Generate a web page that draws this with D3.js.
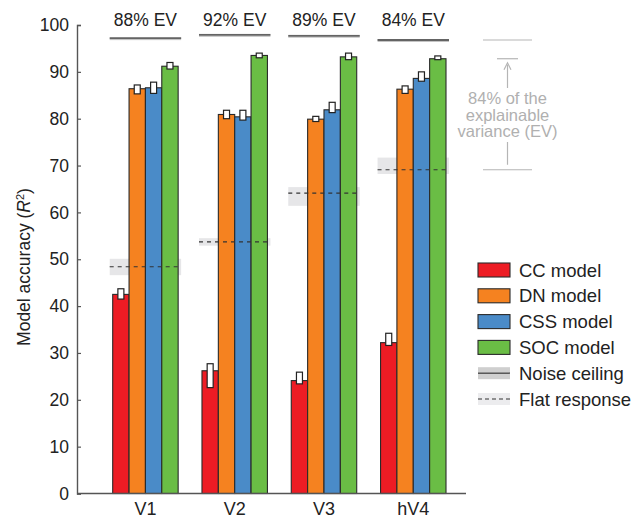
<!doctype html>
<html lang="en">
<head>
<meta charset="UTF-8" />
<title>Model accuracy</title>
<script src="https://d3js.org/d3.v7.min.js"></script>
<style>
  body { margin: 0; background: #fff; font-family: 'Liberation Sans', Arial, sans-serif; }
  .tick text { fill: #222; }
</style>
</head>
<body>
<div id="chart-container"></div>
<script>
// data
var areas = ['V1', 'V2', 'V3', 'hV4'];
var models = ['CC model', 'DN model', 'CSS model', 'SOC model'];
var modelColors = ['#ed1c24', '#f58220', '#4a8bc8', '#6abd45'];
var evLabels = ['88% EV', '92% EV', '89% EV', '84% EV'];

// mean accuracy per area (rows) and model (columns)
var accuracy = [
  [42.5, 86.4, 86.6, 91.2],
  [26.2, 80.9, 80.4, 93.5],
  [24.1, 79.9, 81.9, 93.2],
  [32.2, 86.3, 88.6, 92.8]
];
var errLow = [
  [41.5, 85.3, 85.4, 90.6],
  [22.6, 80.0, 79.7, 93.0],
  [23.4, 79.4, 81.3, 92.6],
  [31.6, 85.4, 88.0, 92.6]
];
var errHigh = [
  [43.7, 87.2, 87.8, 92.0],
  [27.7, 81.8, 81.8, 94.0],
  [25.9, 80.5, 83.5, 94.0],
  [34.2, 87.0, 90.0, 93.4]
];
var noiseCeiling = [97.2, 97.9, 97.7, 96.8];
var flatResponse = [48.4, 53.7, 64.1, 69.1];
var flatLow = [46.6, 52.9, 61.4, 68.2];
var flatHigh = [50.1, 54.5, 65.4, 71.7];
var yTicks = [0, 10, 20, 30, 40, 50, 60, 70, 80, 90, 100];

var W = 643, H = 518;
var svg = d3.select('#chart-container').append('svg')
  .attr('width', W).attr('height', H);

var yScale = d3.scaleLinear().domain([0, 100]).range([493.5, 25]);
var xScale = d3.scaleBand().domain(areas).range([112.7, 446]).paddingInner(0.267).paddingOuter(0);
var mScale = d3.scaleBand().domain(models).range([0, xScale.bandwidth()]);
var color = d3.scaleOrdinal().domain(models).range(modelColors);

var axisX = 77;

// flat response bands (behind bars)
var groups = svg.selectAll('.area').data(areas).enter().append('g')
  .attr('class', 'area')
  .attr('transform', function (d) { return 'translate(' + xScale(d) + ',0)'; });

groups.append('rect')
  .attr('x', -3)
  .attr('width', xScale.bandwidth() + 6)
  .attr('y', function (d, i) { return yScale(flatHigh[i]); })
  .attr('height', function (d, i) { return yScale(flatLow[i]) - yScale(flatHigh[i]); })
  .attr('fill', '#e6e6e8');

// noise ceiling
groups.append('rect')
  .attr('x', -3)
  .attr('width', xScale.bandwidth() + 6)
  .attr('y', function (d, i) { return yScale(noiseCeiling[i]) - 1; })
  .attr('height', 3)
  .attr('fill', '#c4c4c4');
groups.append('line')
  .attr('x1', -3).attr('x2', xScale.bandwidth() + 3)
  .attr('y1', function (d, i) { return yScale(noiseCeiling[i]); })
  .attr('y2', function (d, i) { return yScale(noiseCeiling[i]); })
  .attr('stroke', '#444').attr('stroke-width', 1.3);

groups.append('text')
  .attr('x', xScale.bandwidth() / 2)
  .attr('y', 26)
  .attr('text-anchor', 'middle')
  .attr('font-size', '17.5px')
  .attr('fill', '#222')
  .text(function (d, i) { return evLabels[i]; });

// bars
groups.selectAll('.bar')
  .data(function (d, i) { return models.map(function (m, j) { return { m: m, v: accuracy[i][j] }; }); })
  .enter().append('rect')
  .attr('class', 'bar')
  .attr('x', function (d) { return mScale(d.m); })
  .attr('width', mScale.bandwidth())
  .attr('y', function (d) { return yScale(d.v); })
  .attr('height', function (d) { return yScale(0) - yScale(d.v); })
  .attr('fill', function (d) { return color(d.m); })
  .attr('stroke', '#2a2a2a')
  .attr('stroke-width', 1.1);

// flat response dashed line
groups.append('line')
  .attr('x1', -3).attr('x2', xScale.bandwidth() + 3)
  .attr('y1', function (d, i) { return yScale(flatResponse[i]); })
  .attr('y2', function (d, i) { return yScale(flatResponse[i]); })
  .attr('stroke', '#333').attr('stroke-width', 1.2)
  .attr('stroke-dasharray', '4,4');

// error bars
groups.selectAll('.err')
  .data(function (d, i) { return models.map(function (m, j) { return { m: m, lo: errLow[i][j], hi: errHigh[i][j] }; }); })
  .enter().append('rect')
  .attr('class', 'err')
  .attr('x', function (d) { return mScale(d.m) + mScale.bandwidth() / 2 - 3; })
  .attr('width', 6)
  .attr('y', function (d) { return yScale(d.hi); })
  .attr('height', function (d) { return yScale(d.lo) - yScale(d.hi); })
  .attr('fill', '#fff')
  .attr('stroke', '#222')
  .attr('stroke-width', 1.2);

// axes
var yAxis = svg.append('g')
  .attr('transform', 'translate(' + axisX + ',0)')
  .call(d3.axisLeft(yScale).tickValues(yTicks).tickSize(-4).tickPadding(8));
yAxis.select('.domain').attr('stroke', '#555').attr('stroke-width', 1.4);
yAxis.selectAll('.tick line').attr('stroke', '#555').attr('stroke-width', 1.2);
yAxis.selectAll('.tick text')
  .attr('font-family', "'Liberation Sans', Arial, sans-serif")
  .attr('font-size', '17.5px');

var xAxis = svg.append('g')
  .attr('transform', 'translate(0,' + yScale(0) + ')')
  .call(d3.axisBottom(xScale).tickSize(0).tickPadding(9));
xAxis.select('.domain').remove();
xAxis.selectAll('.tick text')
  .attr('font-family', "'Liberation Sans', Arial, sans-serif")
  .attr('font-size', '18px')
  .attr('dy', '0.68em');
svg.append('line')
  .attr('x1', axisX).attr('x2', 466)
  .attr('y1', yScale(0)).attr('y2', yScale(0))
  .attr('stroke', '#555').attr('stroke-width', 1.4);

// y label
svg.append('text')
  .attr('transform', 'translate(30,' + 267 + ') rotate(-90)')
  .attr('text-anchor', 'middle')
  .attr('font-size', '17.5px')
  .attr('fill', '#222')
  .call(function (t) {
    t.append('tspan').text('Model accuracy (');
    t.append('tspan').attr('font-style', 'italic').text('R');
    t.append('tspan').attr('font-size', '11px').attr('dy', -6).text('2');
    t.append('tspan').attr('dy', 6).text(')');
  });

// explainable variance annotation (hV4)
var ann = svg.append('g').attr('stroke', '#b5b5b5').attr('stroke-width', 1.2);
var annX = 507.5;
ann.append('line').attr('x1', 483).attr('x2', 532)
  .attr('y1', yScale(noiseCeiling[3])).attr('y2', yScale(noiseCeiling[3]));
ann.append('line').attr('x1', 497).attr('x2', 518)
  .attr('y1', yScale(accuracy[3][3])).attr('y2', yScale(accuracy[3][3]));
ann.append('line').attr('x1', 483).attr('x2', 532)
  .attr('y1', yScale(flatResponse[3])).attr('y2', yScale(flatResponse[3]));
ann.append('line').attr('x1', annX).attr('x2', annX)
  .attr('y1', yScale(accuracy[3][3]) + 6).attr('y2', 88);
ann.append('path')
  .attr('d', 'M' + (annX - 3.5) + ',' + (yScale(accuracy[3][3]) + 11) + ' L' + annX + ',' + (yScale(accuracy[3][3]) + 4) + ' L' + (annX + 3.5) + ',' + (yScale(accuracy[3][3]) + 11))
  .attr('fill', 'none');
ann.append('line').attr('x1', annX).attr('x2', annX)
  .attr('y1', 142).attr('y2', yScale(flatResponse[3]) - 5);
var annText = ['84% of the', 'explainable', 'variance (EV)'];
svg.selectAll('.ann-text').data(annText).enter().append('text')
  .attr('class', 'ann-text')
  .attr('x', annX).attr('y', function (d, i) { return 104 + i * 16.7; })
  .attr('text-anchor', 'middle')
  .attr('font-size', '16.5px')
  .attr('fill', '#b0b0b0')
  .text(function (d) { return d; });

// legend
var legendLabels = models.concat(['Noise ceiling', 'Flat response']);
var leg = svg.append('g').attr('transform', 'translate(478,263)');
var rows = leg.selectAll('.row').data(legendLabels).enter().append('g')
  .attr('transform', function (d, i) { return 'translate(0,' + (i * 25.8) + ')'; });
rows.filter(function (d, i) { return i < 4; }).append('rect')
  .attr('width', 32).attr('height', 14)
  .attr('fill', function (d) { return color(d); })
  .attr('stroke', '#2a2a2a').attr('stroke-width', 1.1);
rows.filter(function (d) { return d === 'Noise ceiling'; }).call(function (g) {
  g.append('rect').attr('y', 1).attr('width', 32).attr('height', 12).attr('fill', '#cfcfcf');
  g.append('line').attr('x1', 0).attr('x2', 32).attr('y1', 7).attr('y2', 7)
    .attr('stroke', '#444').attr('stroke-width', 1.3);
});
rows.filter(function (d) { return d === 'Flat response'; }).call(function (g) {
  g.append('rect').attr('y', 1).attr('width', 32).attr('height', 12).attr('fill', '#ececee');
  g.append('line').attr('x1', 0).attr('x2', 32).attr('y1', 7).attr('y2', 7)
    .attr('stroke', '#333').attr('stroke-width', 1.1).attr('stroke-dasharray', '4,3');
});
rows.append('text')
  .attr('x', 41).attr('y', 13.5)
  .attr('font-size', '18.5px')
  .attr('fill', '#222')
  .text(function (d) { return d; });
</script>
</body>
</html>
